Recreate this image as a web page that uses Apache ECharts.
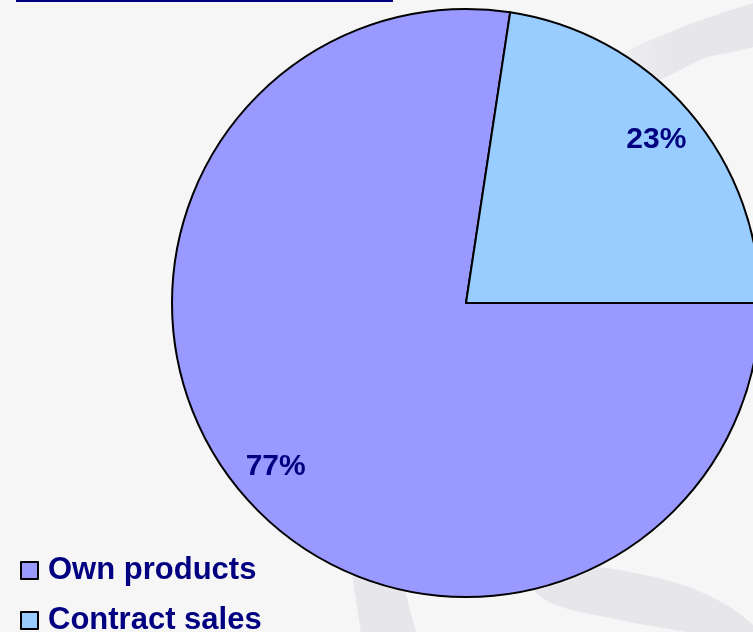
<!DOCTYPE html>
<html>
<head>
<meta charset="utf-8">
<script src="https://cdn.jsdelivr.net/npm/echarts@6/dist/echarts.min.js"></script>
<style>
html,body{margin:0;padding:0;background:#f6f6f6;}
#chart{width:753px;height:632px;}
</style>
</head>
<body>
<div id="chart"></div>
<script>
const categories = ['Own products', 'Contract sales'];
const values = [77.4, 22.6];
const sliceColors = ['#9999FF', '#99CCFF'];

const data = categories.map((c, i) => ({ name: c, value: values[i], itemStyle: { color: sliceColors[i] } }));

const chart = echarts.init(document.getElementById('chart'));
const bandColor = '#e7e7eb';
const legendText = { color: '#000080', fontFamily: 'Liberation Sans, Arial, sans-serif', fontWeight: 'bold', fontSize: 31, lineHeight: 30, padding: [0,0,0,5] };
function makeLegend(name, top) {
  return {
    orient: 'vertical', left: 15, top: top,
    itemWidth: 17, itemHeight: 17, icon: 'rect',
    itemStyle: { borderColor: '#000', borderWidth: 2 },
    data: [name], selectedMode: false,
    textStyle: legendText
  };
}
chart.setOption({
  backgroundColor: '#f6f6f6',
  animation: false,
  graphic: [
    { type: 'polygon', z: -10, shape: { smooth: 0.25, points: [[615,60],[680,28],[753,3],[760,2],[760,43],[705,58],[650,82]] },
      style: { fill: new echarts.graphic.LinearGradient(0, 0, 1, 0, [{ offset: 0, color: '#eeeef1' }, { offset: 0.4, color: bandColor }, { offset: 1, color: bandColor }]) } },
    { type: 'polygon', z: -10, shape: { points: [[350,560],[397,560],[418,640],[362,640]] }, style: { fill: bandColor } },
    { type: 'polygon', z: -10, shape: { smooth: 0.3, points: [[520,562],[600,567],[680,584],[730,607],[760,632],[760,640],[700,634],[620,620],[545,600]] }, style: { fill: bandColor } },
    { type: 'rect', z: 10, shape: { x: 16, y: 0, width: 377, height: 2 }, style: { fill: '#000080' } }
  ],
  legend: [ makeLegend(categories[0], 550), makeLegend(categories[1], 600) ],
  series: [
    {
      type: 'pie',
      center: [466, 303],
      radius: [0, 294],
      startAngle: 0,
      clockwise: true,
      data: data,
      itemStyle: { borderColor: '#000', borderWidth: 2 },
      label: { show: false },
      labelLine: { show: false },
      emphasis: { disabled: true }
    },
    {
      type: 'pie',
      center: [466, 303],
      radius: [0, 496],
      startAngle: 0,
      clockwise: true,
      silent: true,
      z: 5,
      legendHoverLink: false,
      data: data.map(d => ({ name: d.name, value: d.value, itemStyle: { color: 'rgba(0,0,0,0)', borderWidth: 0 } })),
      label: {
        show: true,
        position: 'inside',
        formatter: p => Math.round(p.percent) + '%',
        color: '#000080',
        fontFamily: 'Liberation Sans, Arial, sans-serif',
        fontWeight: 'bold',
        fontSize: 30
      },
      labelLine: { show: false },
      emphasis: { disabled: true }
    }
  ]
});
</script>
</body>
</html>
